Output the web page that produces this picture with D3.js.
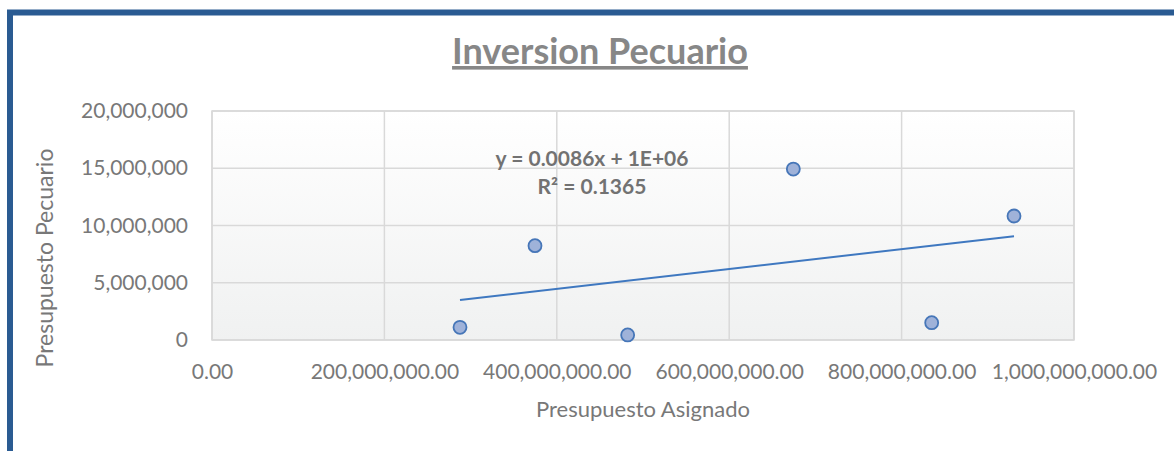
<!DOCTYPE html>
<html>
<head>
<meta charset="utf-8">
<script src="https://cdn.jsdelivr.net/npm/d3@7"></script>
<style>
  body { margin: 0; background: #fff; }
  svg { display: block; font-family: Lato, "Open Sans", sans-serif; }
</style>
</head>
<body>
<script>
// Presupuesto Asignado (x) vs Presupuesto Pecuario (y)
var asignado = [287.7e6, 374.7e6, 482.2e6, 674.4e6, 930.4e6, 834.9e6];
var pecuario = [1.11e6, 8.24e6, 0.44e6, 14.93e6, 10.83e6, 1.51e6];
var xTicks = [0, 200e6, 400e6, 600e6, 800e6, 1000e6];
var yTicks = [0, 5e6, 10e6, 15e6, 20e6];
var eqLabel = ["y = 0.0086x + 1E+06", "R² = 0.1365"];

var width = 1174, height = 451;
var svg = d3.select('body').append('svg')
    .attr('width', width)
    .attr('height', height);

var x = d3.scaleLinear().domain([0, 1000e6]).range([212, 1074]);
var y = d3.scaleLinear().domain([0, 20e6]).range([340, 111]);

// frame
svg.append('rect')
    .attr('x', 10).attr('y', 12.5)
    .attr('width', width + 20).attr('height', height + 20)
    .attr('fill', 'none')
    .attr('stroke', '#2a5b92')
    .attr('stroke-width', 6);

var grad = svg.append('defs').append('linearGradient')
    .attr('id', 'bg').attr('x1', 0).attr('y1', 0).attr('x2', 0).attr('y2', 1);
grad.append('stop').attr('offset', '0%').attr('stop-color', '#ffffff');
grad.append('stop').attr('offset', '100%').attr('stop-color', '#f0f1f1');

svg.append('rect')
    .attr('x', x(0)).attr('y', y(20e6))
    .attr('width', x(1000e6) - x(0)).attr('height', y(0) - y(20e6))
    .attr('fill', 'url(#bg)');

// grid
svg.append('g').selectAll('line').data(yTicks).enter().append('line')
    .attr('x1', x(0)).attr('x2', x(1000e6))
    .attr('y1', function (d) { return y(d); })
    .attr('y2', function (d) { return y(d); })
    .attr('stroke', '#d9d9d9').attr('stroke-width', 1.5);
svg.append('g').selectAll('line').data(xTicks).enter().append('line')
    .attr('y1', y(0)).attr('y2', y(20e6))
    .attr('x1', function (d) { return x(d); })
    .attr('x2', function (d) { return x(d); })
    .attr('stroke', '#d9d9d9').attr('stroke-width', 1.5);
svg.append('rect')
    .attr('x', x(0)).attr('y', y(20e6))
    .attr('width', x(1000e6) - x(0)).attr('height', y(0) - y(20e6))
    .attr('fill', 'none').attr('stroke', '#d9d9d9').attr('stroke-width', 1.5);

// axes (labels only)
var fmtX = d3.format(',.2f'), fmtY = d3.format(',');
var xAxis = svg.append('g')
    .attr('transform', 'translate(0,' + y(0) + ')')
    .call(d3.axisBottom(x).tickValues(xTicks).tickFormat(fmtX).tickSize(0).tickPadding(24));
var yAxis = svg.append('g')
    .attr('transform', 'translate(' + (x(0) - 24) + ',0)')
    .call(d3.axisLeft(y).tickValues(yTicks).tickFormat(fmtY).tickSize(0).tickPadding(0));
[xAxis, yAxis].forEach(function (a) {
    a.select('.domain').remove();
    a.selectAll('text')
        .attr('fill', '#787878')
        .style('font-size', '21px')
        .style('font-family', 'Lato');
});

// trendline (least squares)
var mx = d3.mean(asignado), my = d3.mean(pecuario);
var sxy = d3.sum(asignado, function (v, i) { return (v - mx) * (pecuario[i] - my); });
var sxx = d3.sum(asignado, function (v) { return (v - mx) * (v - mx); });
var slope = sxy / sxx, icpt = my - slope * mx;
var xr = d3.extent(asignado);
svg.append('line')
    .attr('x1', x(xr[0])).attr('y1', y(icpt + slope * xr[0]))
    .attr('x2', x(xr[1])).attr('y2', y(icpt + slope * xr[1]))
    .attr('stroke', '#3f78c0').attr('stroke-width', 2);

// points
svg.append('g').selectAll('circle').data(asignado).enter().append('circle')
    .attr('cx', function (d) { return x(d); })
    .attr('cy', function (d, i) { return y(pecuario[i]); })
    .attr('r', 6.5)
    .attr('fill', '#9fb2d9')
    .attr('stroke', '#4676b8')
    .attr('stroke-width', 1.8);

// equation
svg.append('g').selectAll('text').data(eqLabel).enter().append('text')
    .attr('x', 592)
    .attr('y', function (d, i) { return 166 + i * 28; })
    .attr('text-anchor', 'middle')
    .attr('fill', '#727272')
    .style('font-weight', 'bold')
    .style('font-size', '21px')
    .text(function (d) { return d; });

// title
svg.append('text')
    .attr('x', 600).attr('y', 64)
    .attr('text-anchor', 'middle')
    .attr('fill', '#878787')
    .style('font-weight', 'bold')
    .style('font-size', '36px')
    .style('text-decoration', 'underline')
    .text('Inversion Pecuario');

// axis titles
svg.append('text')
    .attr('x', x(500e6)).attr('y', 417)
    .attr('text-anchor', 'middle')
    .attr('fill', '#787878')
    .style('font-size', '22px')
    .text('Presupuesto Asignado');
svg.append('text')
    .attr('transform', 'translate(53,258) rotate(-90)')
    .attr('text-anchor', 'middle')
    .attr('fill', '#787878')
    .style('font-size', '23px')
    .text('Presupuesto Pecuario');
</script>
</body>
</html>
